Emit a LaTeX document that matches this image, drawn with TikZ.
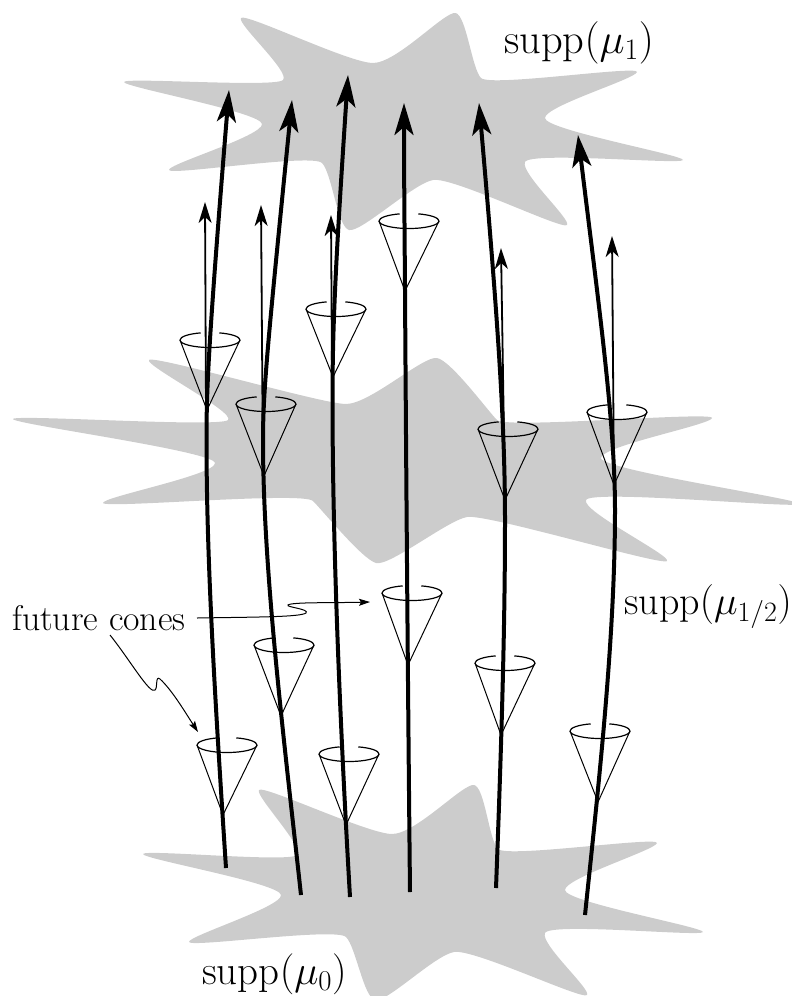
\RequirePackage{fix-cm}
\documentclass[tikz,border=0pt]{standalone}
\usetikzlibrary{arrows.meta}
\definecolor{blobgray}{HTML}{CCCCCC}
\newcommand\blobpath[1]{%
  \gdef\bp{}%
  \foreach \px/\py/\ang/\rr [count=\ii] in {#1} {%
    \pgfmathsetmacro\ix{\px-\rr*cos(\ang)}%
    \pgfmathsetmacro\iy{\py-\rr*sin(\ang)}%
    \pgfmathsetmacro\ox{\px+\rr*cos(\ang)}%
    \pgfmathsetmacro\oy{\py+\rr*sin(\ang)}%
    \ifnum\ii=1 \xdef\bp{(\px,\py)}\xdef\fx{\px}\xdef\fy{\py}\xdef\fix{\ix}\xdef\fiy{\iy}%
    \else \xdef\bp{\bp .. controls (\lox,\loy) and (\ix,\iy) .. (\px,\py)}\fi
    \xdef\lox{\ox}\xdef\loy{\oy}%
  }%
  \xdef\bp{\bp .. controls (\lox,\loy) and (\fix,\fiy) .. (\fx,\fy) -- cycle}%
}
% apex x, apex y, centre x, centre y
\newcommand\cone[4]{%
  \draw[conerim] (#3-30,#4) arc[start angle=180,end angle=0,x radius=30,y radius=7.5];
  \draw[conerim] (#3-30,#4) arc[start angle=180,end angle=252,x radius=30,y radius=7.5];
  \draw[conerim] (#3+30,#4) arc[start angle=0,end angle=-72,x radius=30,y radius=7.5];
  \draw[coneside] (#3-30,#4) -- (#1,#2) -- (#3+30,#4);
}
\tikzset{
  conerim/.style={line width=1.2pt,black},
  coneside/.style={line width=1pt,black,line join=miter},
  thickarrow/.style={line width=4pt,black,-{Stealth[length=32pt,width=19pt,inset=8pt]}},
  thinarrow/.style={line width=1.8pt,black,-{Stealth[length=21pt,width=13pt,inset=6pt]}},
  leader/.style={line width=1pt,black,-{Stealth[length=11pt,width=7pt,inset=2pt]}},
  biglabel/.style={inner sep=0pt,anchor=base west}
}
\begin{document}
\begin{tikzpicture}[x=1pt,y=-1pt]
\path[use as bounding box,clip] (0,0) rectangle (792,996);
% top
\blobpath{241/18/310/7,373/63/0/24,455.5/13/10/11,481/78/45/13,637/72/100/7,545/118/90/12,683/160/100/5,525/162/115/12,567/225/130/7,433/180/170/20,349/230/195/12,322/163/225/14,169/170/255/6,262/124/265/12,124/82/280/5,283/80/315/11}
\fill[blobgray] \bp;
% middle
\blobpath{149/360/310/7,346/404/0/24,437/358/10/14,497/420/45/13,712/418/100/7,601/458/90/12,800/504/100/5,586/500/115/12,667/561/130/7,467/517/170/20,376/563/195/14,313/501/225/14,103/503/255/6,215/463/265/12,13/419/280/5,228/420/315/11}
\fill[blobgray] \bp;
% bottom
\blobpath{259/790/310/7,392/834/0/24,474/785/10/11,498/849/45/13,657/843/100/7,565/890/90/12,703/932/100/5,545/933/115/12,587/995/130/7,454/952/170/20,375/1000/195/12,346/937/225/14,189/942/255/6,281/895/265/12,143/854/280/5,297/855/315/11}
\fill[blobgray] \bp;
% thin arrows
\coordinate (ta1) at (206,410); \coordinate (tb1) at (205,202);
\coordinate (ta2) at (263,476); \coordinate (tb2) at (261,205);
\coordinate (ta3) at (332,377); \coordinate (tb3) at (331,215);
\coordinate (ta5) at (505,500); \coordinate (tb5) at (501,248);
\coordinate (ta6) at (614,485); \coordinate (tb6) at (612,236);
\foreach \n in {1,2,3,5,6} \draw[thinarrow] (ta\n) -- (tb\n);
% cones
\cone{207}{410}{210}{340}
\cone{264}{476}{266}{404}
\cone{333}{377}{336}{309}
\cone{405}{291}{409}{221}
\cone{505}{500}{508}{429}
\cone{614}{485}{617}{412}
\cone{408}{665}{412}{593}
\cone{281}{716}{284}{645}
\cone{223}{815}{227}{745}
\cone{346}{825}{349}{754}
\cone{501}{735}{505}{663}
\cone{598}{802}{600}{731}
% thick arrows
\draw[thickarrow] (226,868) .. controls (215,700) and (206.5,560) .. (206.5,440) .. controls (206.5,390) and (208,347) .. (229,90);
\draw[thickarrow] (301,895) .. controls (284,740) and (263,570) .. (263,440) .. controls (263,390) and (268,340) .. (292,100);
\draw[thickarrow] (350,897) .. controls (342,760) and (332.5,560) .. (332.5,400) .. controls (332.5,330) and (335,270) .. (348,75);
\draw[thickarrow] (410,892) .. controls (408,700) and (406,450) .. (405,290) .. controls (404.5,220) and (404,170) .. (404,103);
\draw[thickarrow] (496,888) .. controls (502,730) and (505,620) .. (505,520) .. controls (505,420) and (497,310) .. (479,103);
\draw[thickarrow] (585,915) .. controls (598,790) and (615,640) .. (615,510) .. controls (615,420) and (598,300) .. (578,135);
% labels
\node[biglabel,font=\fontsize{42.5}{46}\selectfont] (l1) at (504,53) {supp$(\mu_1)$};
\node[biglabel,font=\fontsize{40}{44}\selectfont] (l2) at (624,614) {supp$(\mu_{1/2})$};
\node[biglabel,font=\fontsize{41}{45}\selectfont] (l3) at (202,984) {supp$(\mu_0)$};
\node[biglabel,font=\fontsize{35.7}{40}\selectfont] (l4) at (12,630) {future cones};
% leaders
\coordinate (f1) at (197,618); \coordinate (f1e) at (370,602);
\coordinate (f2) at (110,635); \coordinate (f2e) at (198,732);
\draw[leader] (f1) .. controls (260,617) and (300,617) .. (306,613) .. controls (310,609) and (285,607) .. (288,605) .. controls (292,602) and (330,603) .. (f1e);
\draw[leader] (f2) .. controls (130,660) and (150,695) .. (155,690) .. controls (158,688) and (155,675) .. (160,679) .. controls (172,690) and (185,712) .. (f2e);
\end{tikzpicture}
\end{document}
